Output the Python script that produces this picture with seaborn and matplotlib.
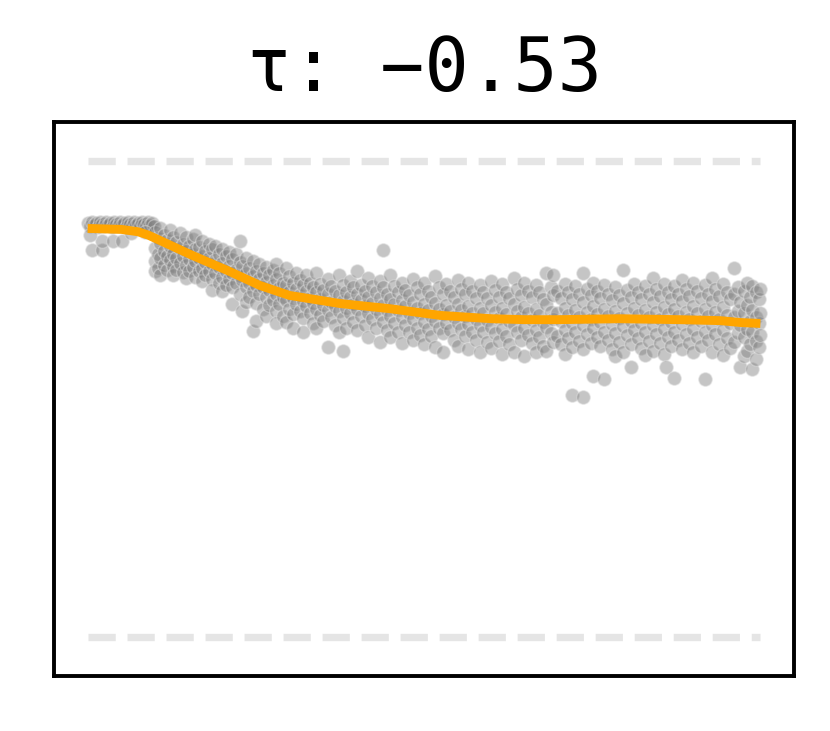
import matplotlib
matplotlib.use("Agg")
import matplotlib.pyplot as plt
import seaborn as sns
import pandas as pd

# ---- data ----
title_text = "τ: −0.53"

ref_levels = [0.0, 1.0]

curve_x = [0.0, 0.05, 0.075, 0.09, 0.107, 0.156, 0.207, 0.256, 0.30, 0.375,
           0.45, 0.524, 0.60, 0.65, 0.70, 0.79, 0.88, 0.94, 0.97, 1.0]
curve_y = [0.859, 0.857, 0.852, 0.845, 0.834, 0.802, 0.771, 0.739, 0.718, 0.701,
           0.690, 0.676, 0.669, 0.667, 0.667, 0.669, 0.667, 0.665, 0.661, 0.659]

# scatter points, grouped by x position: (x, [y values])
points = [
    (0.000, [0.870]), (0.003, [0.864]), (0.006, [0.872]), (0.009, [0.866]),
    (0.012, [0.870]), (0.015, [0.862]), (0.018, [0.872]), (0.021, [0.868]),
    (0.024, [0.864]), (0.027, [0.872]), (0.030, [0.866]), (0.033, [0.870]),
    (0.036, [0.862]), (0.039, [0.872]), (0.042, [0.868]), (0.045, [0.864]),
    (0.048, [0.872]), (0.051, [0.866]), (0.054, [0.870]), (0.057, [0.862]),
    (0.060, [0.872]), (0.063, [0.868]), (0.066, [0.864]), (0.069, [0.872]),
    (0.072, [0.866]), (0.075, [0.870]), (0.078, [0.864]), (0.081, [0.872]),
    (0.084, [0.868]), (0.087, [0.864]), (0.090, [0.872]), (0.093, [0.866]),
    (0.096, [0.870]), (0.099, [0.864]),
    (0.007, [0.813]), (0.022, [0.813, 0.832]), (0.037, [0.832]), (0.051, [0.832]),
    (0.004, [0.845]), (0.065, [0.850]), (0.085, [0.852]),
    (0.100, [0.852, 0.818, 0.790, 0.770]),
    (0.104, [0.838, 0.805, 0.775]),
    (0.108, [0.860, 0.828, 0.797, 0.762]),
    (0.113, [0.845, 0.812, 0.783]),
    (0.118, [0.835, 0.800, 0.771]),
    (0.122, [0.856, 0.822, 0.792]),
    (0.127, [0.841, 0.806, 0.779, 0.760]),
    (0.132, [0.830, 0.797, 0.772]),
    (0.137, [0.850, 0.818, 0.787]),
    (0.141, [0.826, 0.800, 0.768]),
    (0.146, [0.842, 0.812, 0.783, 0.755]),
    (0.151, [0.822, 0.795, 0.770]),
    (0.156, [0.836, 0.806, 0.778]),
    (0.160, [0.846, 0.815, 0.790, 0.757]),
    (0.165, [0.820, 0.796, 0.769]),
    (0.170, [0.832, 0.801, 0.776, 0.748]),
    (0.175, [0.812, 0.788, 0.760]),
    (0.180, [0.826, 0.797, 0.770]),
    (0.185, [0.815, 0.784, 0.752, 0.730]),
    (0.190, [0.821, 0.792, 0.765]),
    (0.195, [0.806, 0.778, 0.745]),
    (0.200, [0.815, 0.786, 0.757, 0.728]),
    (0.205, [0.800, 0.770, 0.740]),
    (0.210, [0.810, 0.779, 0.752]),
    (0.215, [0.795, 0.765, 0.735, 0.700]),
    (0.220, [0.805, 0.772, 0.745]),
    (0.226, [0.832, 0.788, 0.758, 0.720]),
    (0.230, [0.780, 0.750, 0.686]),
    (0.235, [0.796, 0.766, 0.736, 0.705]),
    (0.240, [0.775, 0.745, 0.715]),
    (0.246, [0.790, 0.758, 0.728, 0.644]),
    (0.250, [0.770, 0.740, 0.702, 0.665]),
    (0.255, [0.784, 0.752, 0.722]),
    (0.260, [0.765, 0.735, 0.690]),
    (0.265, [0.778, 0.746, 0.715, 0.675]),
    (0.270, [0.760, 0.730, 0.698]),
    (0.275, [0.772, 0.740, 0.708]),
    (0.280, [0.785, 0.752, 0.722, 0.685, 0.660]),
    (0.285, [0.765, 0.733, 0.700]),
    (0.290, [0.745, 0.715, 0.675]),
    (0.295, [0.775, 0.740, 0.708, 0.662]),
    (0.300, [0.758, 0.725, 0.690]),
    (0.305, [0.745, 0.712, 0.678, 0.650]),
    (0.310, [0.765, 0.732, 0.700]),
    (0.315, [0.750, 0.718, 0.685]),
    (0.320, [0.740, 0.706, 0.670, 0.640]),
    (0.325, [0.760, 0.728, 0.695]),
    (0.330, [0.745, 0.712, 0.680]),
    (0.335, [0.735, 0.702, 0.660]),
    (0.340, [0.765, 0.725, 0.690, 0.650]),
    (0.345, [0.742, 0.710, 0.676]),
    (0.350, [0.730, 0.698, 0.664]),
    (0.357, [0.752, 0.720, 0.688, 0.610]),
    (0.362, [0.738, 0.705, 0.672]),
    (0.368, [0.728, 0.695, 0.655]),
    (0.373, [0.760, 0.718, 0.685, 0.640]),
    (0.379, [0.740, 0.707, 0.670, 0.602]),
    (0.384, [0.725, 0.692, 0.650]),
    (0.390, [0.748, 0.715, 0.680]),
    (0.395, [0.735, 0.700, 0.662]),
    (0.400, [0.770, 0.722, 0.690, 0.645]),
    (0.406, [0.740, 0.708, 0.675]),
    (0.412, [0.728, 0.695, 0.655]),
    (0.417, [0.755, 0.715, 0.682, 0.630]),
    (0.423, [0.738, 0.703, 0.668]),
    (0.428, [0.725, 0.690, 0.650]),
    (0.434, [0.748, 0.712, 0.678, 0.620]),
    (0.439, [0.813, 0.735, 0.698, 0.662]),
    (0.445, [0.722, 0.688, 0.645]),
    (0.450, [0.760, 0.710, 0.675, 0.630]),
    (0.456, [0.738, 0.700, 0.660]),
    (0.461, [0.725, 0.688, 0.640]),
    (0.467, [0.745, 0.708, 0.672, 0.618]),
    (0.472, [0.730, 0.695, 0.655]),
    (0.478, [0.718, 0.682, 0.640]),
    (0.483, [0.752, 0.705, 0.668, 0.625]),
    (0.489, [0.735, 0.692, 0.650]),
    (0.494, [0.722, 0.680, 0.635]),
    (0.500, [0.745, 0.700, 0.662, 0.615]),
    (0.506, [0.728, 0.688, 0.648]),
    (0.511, [0.715, 0.675, 0.632]),
    (0.517, [0.758, 0.702, 0.665, 0.610]),
    (0.522, [0.735, 0.690, 0.650]),
    (0.528, [0.720, 0.678, 0.638, 0.600]),
    (0.533, [0.742, 0.698, 0.660]),
    (0.539, [0.728, 0.685, 0.645]),
    (0.544, [0.715, 0.672, 0.625]),
    (0.550, [0.750, 0.700, 0.660, 0.612]),
    (0.555, [0.732, 0.688, 0.648]),
    (0.561, [0.720, 0.675, 0.632]),
    (0.566, [0.745, 0.695, 0.658, 0.605]),
    (0.572, [0.728, 0.682, 0.642]),
    (0.577, [0.712, 0.668, 0.625]),
    (0.583, [0.740, 0.692, 0.655, 0.598]),
    (0.588, [0.725, 0.680, 0.640]),
    (0.594, [0.712, 0.666, 0.620]),
    (0.600, [0.748, 0.698, 0.652, 0.608]),
    (0.605, [0.730, 0.684, 0.638]),
    (0.611, [0.715, 0.670, 0.622]),
    (0.616, [0.742, 0.692, 0.648, 0.595]),
    (0.622, [0.725, 0.678, 0.632]),
    (0.627, [0.712, 0.664, 0.615]),
    (0.633, [0.755, 0.700, 0.655, 0.600]),
    (0.638, [0.732, 0.686, 0.640]),
    (0.644, [0.718, 0.672, 0.625]),
    (0.649, [0.745, 0.694, 0.650, 0.590]),
    (0.655, [0.728, 0.680, 0.635]),
    (0.660, [0.714, 0.666, 0.618]),
    (0.666, [0.740, 0.690, 0.645, 0.598]),
    (0.671, [0.725, 0.676, 0.630]),
    (0.677, [0.710, 0.662, 0.612]),
    (0.682, [0.766, 0.700, 0.652, 0.602]),
    (0.688, [0.735, 0.684, 0.638]),
    (0.692, [0.762, 0.718, 0.668, 0.620]),
    (0.698, [0.728, 0.680, 0.632]),
    (0.703, [0.712, 0.664, 0.615]),
    (0.709, [0.742, 0.692, 0.646, 0.595]),
    (0.714, [0.725, 0.676, 0.628]),
    (0.720, [0.710, 0.660, 0.610, 0.509]),
    (0.725, [0.738, 0.688, 0.640]),
    (0.731, [0.722, 0.672, 0.622]),
    (0.737, [0.766, 0.705, 0.656, 0.605, 0.505]),
    (0.742, [0.732, 0.684, 0.636]),
    (0.748, [0.718, 0.668, 0.618]),
    (0.751, [0.745, 0.695, 0.650, 0.549]),
    (0.757, [0.728, 0.678, 0.630]),
    (0.762, [0.712, 0.662, 0.612]),
    (0.768, [0.740, 0.690, 0.642, 0.543]),
    (0.773, [0.722, 0.674, 0.625]),
    (0.779, [0.708, 0.658, 0.605]),
    (0.784, [0.735, 0.686, 0.638, 0.590]),
    (0.790, [0.718, 0.670, 0.620]),
    (0.795, [0.771, 0.702, 0.654, 0.600]),
    (0.801, [0.730, 0.682, 0.635]),
    (0.807, [0.715, 0.665, 0.615, 0.568]),
    (0.812, [0.742, 0.692, 0.645]),
    (0.818, [0.725, 0.676, 0.628]),
    (0.823, [0.710, 0.660, 0.608]),
    (0.829, [0.738, 0.688, 0.640, 0.592]),
    (0.834, [0.722, 0.672, 0.622]),
    (0.840, [0.755, 0.705, 0.656, 0.602]),
    (0.845, [0.732, 0.684, 0.636]),
    (0.851, [0.716, 0.668, 0.618]),
    (0.856, [0.742, 0.694, 0.648, 0.595]),
    (0.859, [0.568]),
    (0.862, [0.726, 0.678, 0.630]),
    (0.867, [0.710, 0.662, 0.612]),
    (0.872, [0.738, 0.690, 0.642, 0.545]),
    (0.878, [0.722, 0.674, 0.625]),
    (0.883, [0.750, 0.706, 0.658, 0.605]),
    (0.889, [0.732, 0.684, 0.636]),
    (0.894, [0.716, 0.668, 0.618]),
    (0.900, [0.745, 0.696, 0.648, 0.598]),
    (0.905, [0.728, 0.680, 0.630]),
    (0.911, [0.712, 0.664, 0.612]),
    (0.917, [0.740, 0.690, 0.642, 0.543]),
    (0.922, [0.722, 0.674, 0.624]),
    (0.928, [0.755, 0.706, 0.656, 0.600]),
    (0.933, [0.732, 0.684, 0.636]),
    (0.939, [0.716, 0.668, 0.615]),
    (0.944, [0.742, 0.694, 0.646, 0.592]),
    (0.950, [0.726, 0.676, 0.628]),
    (0.955, [0.710, 0.660, 0.608]),
    (0.961, [0.775, 0.720, 0.672, 0.620]),
    (0.966, [0.735, 0.686, 0.638]),
    (0.970, [0.705, 0.655, 0.568]),
    (0.975, [0.728, 0.680, 0.630, 0.590]),
    (0.980, [0.745, 0.698, 0.648, 0.602]),
    (0.985, [0.715, 0.665, 0.615]),
    (0.988, [0.738, 0.688, 0.640, 0.564]),
    (0.993, [0.725, 0.672, 0.622, 0.585]),
    (0.998, [0.710, 0.660, 0.610]),
    (1.000, [0.732, 0.682, 0.635]),
]

rows = [(x, y) for x, ys in points for y in ys]
df = pd.DataFrame(rows, columns=["x", "y"])
curve_df = pd.DataFrame({"x": curve_x, "y": curve_y})

# ---- figure ----
sns.set_style("white")
plt.rcParams["font.family"] = ["DejaVu Sans Mono", "DejaVu Sans"]

fig = plt.figure(figsize=(4.15, 3.655), dpi=200)
ax = fig.add_axes([0.0651, 0.0752, 0.8916, 0.7579])

for lvl in ref_levels:
    ax.plot([0, 1], [lvl, lvl], ls="--", lw=2.65, color="#e5e5e5",
            dash_capstyle="butt", zorder=1)

sns.scatterplot(data=df, x="x", y="y", ax=ax, color="gray", s=24,
                alpha=0.45, edgecolor="#e0e0e0", linewidth=0.5, zorder=2)
sns.lineplot(data=curve_df, x="x", y="y", ax=ax, color="#FFA500", lw=3.2,
             solid_capstyle="butt", zorder=3)

ax.set_xlim(-0.05, 1.05)
ax.set_ylim(-0.083, 1.083)
ax.set_xticks([])
ax.set_yticks([])
ax.set_xlabel("")
ax.set_ylabel("")
for sp in ax.spines.values():
    sp.set_visible(True)
    sp.set_color("black")
    sp.set_linewidth(1.4)

ax.set_title(title_text, fontsize=26.5, pad=11, color="black",
             family=["DejaVu Sans Mono", "DejaVu Sans"])

fig.savefig("out.png", dpi=200, facecolor="white")
